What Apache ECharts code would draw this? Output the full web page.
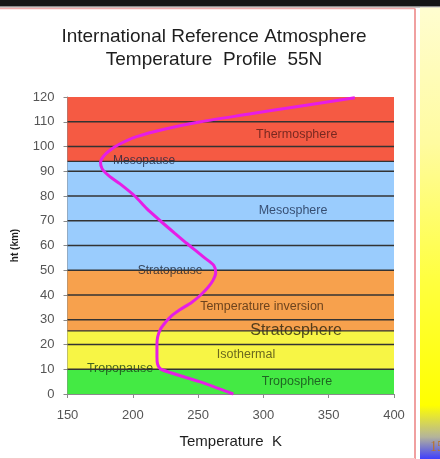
<!DOCTYPE html>
<html>
<head>
<meta charset="utf-8">
<script src="https://cdn.jsdelivr.net/npm/echarts@6/dist/echarts.min.js"></script>
<style>
html,body{margin:0;padding:0;background:#fff;}
#chart{width:440px;height:459px;}
</style>
</head>
<body>
<div id="chart"></div>
<script>
// ---- data ----
var titleLines = ['International Reference Atmosphere', 'Temperature  Profile  55N'];
var xAxisName = 'Temperature  K';
var yAxisName = 'ht (km)';
var tempMin = 150, tempMax = 400, tempStep = 50;
var altMin = 0, altMax = 120, altStep = 10;

// temperature profile (K) vs altitude (km)
var profileAlt  = [0,   5,   10,    12,  15,    20,    23,  26,  28,    31,    34,  37,  40,  43,    46,    49,    52,  55,  58,  61,  65,  70,  75,    80,    85,  88,  91,    93.5,  96,    98.5,  101, 104, 107, 110, 113, 116, 119.7];
var profileTemp = [277, 251, 221.5, 219, 218.5, 218.5, 219, 221, 223.5, 228.5, 236, 245, 252, 257.5, 261.5, 263.5, 262, 255, 248, 241, 232, 221, 210.5, 201.5, 190, 182, 176.5, 175.3, 177.5, 182.5, 190, 203, 224, 252, 288, 324, 370];

// atmospheric layers (km)
var layerBottom = [0, 10, 25.5, 50, 94];
var layerTop    = [10, 25.5, 50, 94, 120];
var layerColors = ['#44ea44', '#f7f545', '#f7a14d', '#9accfd', '#f55a43'];

// extra dark lines (grid every 10 km + layer boundaries)
var gridAlts = [10, 20, 25.5, 30, 40, 50, 60, 70, 80, 90, 94, 100, 110];

// annotations
var noteText = ['Thermosphere', 'Mesopause', 'Mesosphere', 'Stratopause', 'Temperature inversion', 'Stratosphere', 'Isothermal', 'Troposphere', 'Tropopause'];
var noteTemp = [325.5, 208.6, 322.7, 228.5, 298.9, 325, 286.7, 325.7, 190.2];
var noteAlt  = [104.9, 94.3, 74.3, 49.8, 35.2, 25.5, 15.8, 5, 10.4];
var noteSize = [12.5, 12, 12.5, 12, 12.5, 16, 12.5, 12.5, 12.5];
var noteColor = ['#561c18', '#1c2644', '#1c2c4c', '#1c2030', '#4a2c12', '#2a2410', '#464414', '#16441a', '#173f17'];

// ---- chart ----
var FONT = '"Liberation Sans", Arial, sans-serif';
var chart = echarts.init(document.getElementById('chart'), null, {renderer: 'canvas'});

var profileData = profileAlt.map(function (h, i) { return [profileTemp[i], h]; });
var layerData = layerBottom.map(function (b, i) { return [tempMin, b, tempMax, layerTop[i]]; });
var gridData = gridAlts.map(function (h) { return [tempMin, h, tempMax, h]; });
var noteData = noteText.map(function (t, i) {
  return {
    value: [noteTemp[i], noteAlt[i]],
    label: {formatter: t, fontSize: noteSize[i], color: noteColor[i]}
  };
});

var option = {
  animation: false,
  backgroundColor: '#ffffff',
  graphic: [
    {type: 'rect', z: -10, shape: {x: 0, y: 0, width: 440, height: 6}, style: {fill: '#151515'}},
    {type: 'rect', z: -10, shape: {x: 0, y: 6, width: 440, height: 1.5}, style: {fill: '#8a8a8a'}},
    {type: 'line', z: -9, shape: {x1: 0, y1: 8.5, x2: 415, y2: 8.5}, style: {stroke: '#f0a8a8', lineWidth: 1.5}},
    {type: 'line', z: -9, shape: {x1: 415, y1: 8.5, x2: 415, y2: 459}, style: {stroke: '#f0a0a0', lineWidth: 2}},
    {type: 'line', z: -9, shape: {x1: 0, y1: 458.5, x2: 415, y2: 458.5}, style: {stroke: '#f6c8c8', lineWidth: 1}},
    {type: 'rect', z: -10, shape: {x: 420, y: 7.5, width: 20, height: 452},
      style: {fill: new echarts.graphic.LinearGradient(0, 0, 0, 1, [
        {offset: 0, color: '#fffdd0'},
        {offset: 0.3, color: '#fffba0'},
        {offset: 0.6, color: '#ffff40'},
        {offset: 0.88, color: '#ffff00'},
        {offset: 0.95, color: '#b4b49a'},
        {offset: 1, color: '#3c3cff'}
      ])}},
    {type: 'text', z: -8, x: 430, y: 447, style: {text: '15', font: '14px "Liberation Serif", serif', fill: '#b8742c', textVerticalAlign: 'middle'}},
    {type: 'text', x: 214, y: 36.7, style: {text: titleLines[0], font: '19px ' + FONT, fill: '#1e1e1e', textAlign: 'center', textVerticalAlign: 'middle'}},
    {type: 'text', x: 214, y: 60, style: {text: titleLines[1], font: '19px ' + FONT, fill: '#1e1e1e', textAlign: 'center', textVerticalAlign: 'middle'}}
  ],
  grid: {left: 67.5, top: 97, width: 326.5, height: 297, outerBoundsMode: 'none', containLabel: false},
  xAxis: {
    type: 'value', min: tempMin, max: tempMax, interval: tempStep,
    name: xAxisName, nameLocation: 'middle', nameGap: 40,
    nameTextStyle: {fontSize: 15, color: '#1e1e1e', fontFamily: FONT},
    axisLine: {show: true, lineStyle: {color: '#8a8a8a', width: 1}},
    axisTick: {show: true, length: 4, lineStyle: {color: '#8a8a8a'}},
    axisLabel: {fontSize: 13, color: '#555', margin: 15, fontFamily: FONT},
    splitLine: {show: false}
  },
  yAxis: {
    type: 'value', min: altMin, max: altMax, interval: altStep,
    name: yAxisName, nameLocation: 'middle', nameGap: 47, nameRotate: 90,
    nameTextStyle: {fontSize: 10, fontWeight: 'bold', color: '#1e1e1e', fontFamily: FONT},
    axisLine: {show: true, lineStyle: {color: '#8a8a8a', width: 1}},
    axisTick: {show: true, length: 4, lineStyle: {color: '#8a8a8a'}},
    axisLabel: {fontSize: 13, color: '#555', margin: 13, fontFamily: FONT},
    splitLine: {show: false}
  },
  series: [
    {
      type: 'custom', z: 1, silent: true,
      encode: {x: [0, 2], y: [1, 3]},
      data: layerData,
      renderItem: function (params, api) {
        var p1 = api.coord([api.value(0), api.value(3)]);
        var p2 = api.coord([api.value(2), api.value(1)]);
        return {type: 'rect', shape: {x: p1[0], y: p1[1], width: p2[0] - p1[0], height: p2[1] - p1[1]},
          style: {fill: layerColors[params.dataIndex]}};
      }
    },
    {
      type: 'scatter', z: 2, silent: true, symbolSize: 1,
      itemStyle: {color: 'rgba(0,0,0,0)'},
      label: {show: true, position: 'inside', fontFamily: FONT},
      data: noteData
    },
    {
      type: 'custom', z: 3, silent: true,
      encode: {x: [0, 2], y: [1, 3]},
      data: gridData,
      renderItem: function (params, api) {
        var p1 = api.coord([api.value(0), api.value(1)]);
        var p2 = api.coord([api.value(2), api.value(3)]);
        return {type: 'line', shape: {x1: p1[0], y1: p1[1], x2: p2[0], y2: p2[1]},
          style: {stroke: '#333333', lineWidth: 1.4}};
      }
    },
    {
      type: 'line', z: 4, silent: true, smooth: 0.25, symbol: 'none',
      lineStyle: {color: '#e61de6', width: 3},
      data: profileData
    }
  ]
};
chart.setOption(option);
</script>
</body>
</html>
